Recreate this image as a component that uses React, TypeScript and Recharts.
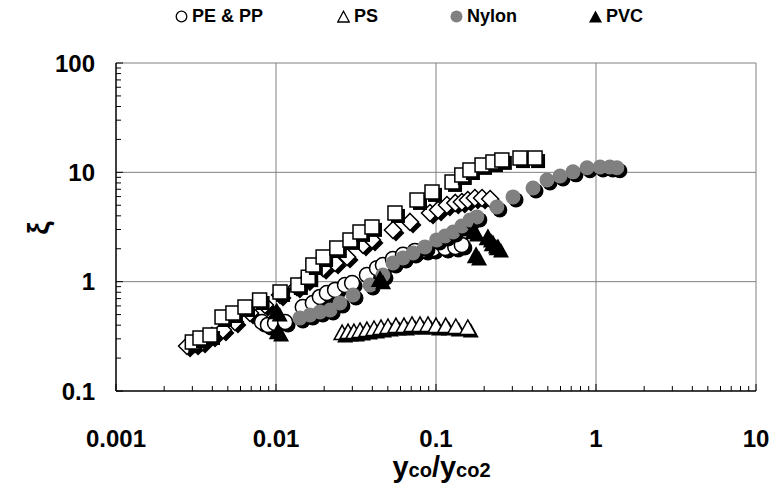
import React from 'react'
import { ScatterChart, Scatter, XAxis, YAxis, ReferenceLine } from 'recharts'

// --- data (log-log) ---
const diamondX = [0.00278, 0.00312, 0.00345, 0.00398, 0.00466, 0.00554, 0.00688, 0.00853, 0.0106, 0.0135, 0.0156, 0.0197, 0.0234, 0.0278, 0.035, 0.0398, 0.0538, 0.0688, 0.0917, 0.103, 0.117, 0.132, 0.145, 0.158, 0.175, 0.194, 0.218]
const diamondY = [0.258, 0.269, 0.281, 0.319, 0.361, 0.428, 0.517, 0.612, 0.756, 0.894, 1.04, 1.33, 1.48, 1.68, 2.17, 2.41, 2.97, 3.52, 4.25, 4.53, 5.03, 5.25, 5.36, 5.59, 5.83, 5.83, 5.71]

const squareX = [0.003, 0.00335, 0.00387, 0.0046, 0.00538, 0.0064, 0.0079, 0.0106, 0.0137, 0.0159, 0.017, 0.0197, 0.024, 0.029, 0.0335, 0.0398, 0.0554, 0.0761, 0.0944, 0.126, 0.145, 0.163, 0.194, 0.227, 0.258, 0.335, 0.416]
const squareY = [0.281, 0.305, 0.325, 0.475, 0.517, 0.587, 0.68, 0.805, 0.933, 1.1, 1.42, 1.68, 2.03, 2.41, 2.85, 3.17, 4.25, 5.59, 6.62, 8.17, 9.46, 10.5, 11.7, 12.4, 13.0, 13.5, 13.5]

const pePpX = [0.00817, 0.00891, 0.00986, 0.0114, 0.0147, 0.017, 0.0188, 0.0208, 0.0234, 0.027, 0.0299, 0.037, 0.0428, 0.0466, 0.0538, 0.0622, 0.0739, 0.0853, 0.0957, 0.114, 0.132, 0.145]
const pePpY = [0.428, 0.402, 0.419, 0.428, 0.587, 0.638, 0.725, 0.788, 0.84, 0.933, 0.973, 1.15, 1.33, 1.42, 1.61, 1.76, 1.91, 1.95, 1.99, 2.03, 2.08, 2.17]

const nylonX = [0.0141, 0.0163, 0.0188, 0.0218, 0.0251, 0.0303, 0.0387, 0.0466, 0.0538, 0.0622, 0.0718, 0.0853, 0.101, 0.114, 0.128, 0.145, 0.163, 0.18, 0.24, 0.303, 0.404, 0.494, 0.596, 0.718, 0.879, 1.06, 1.22, 1.35]
const nylonY = [0.465, 0.496, 0.528, 0.551, 0.638, 0.756, 0.933, 1.15, 1.48, 1.65, 1.83, 2.08, 2.41, 2.62, 2.85, 3.23, 3.67, 3.91, 4.82, 5.96, 7.2, 8.51, 9.26, 10.1, 11.0, 11.2, 11.2, 11.0]

const psX = [0.0259, 0.0282, 0.0307, 0.0335, 0.037, 0.041, 0.0453, 0.0501, 0.0562, 0.0631, 0.0708, 0.0794, 0.0891, 0.1, 0.115, 0.133, 0.158]
const psY = [0.339, 0.346, 0.346, 0.354, 0.361, 0.369, 0.377, 0.385, 0.393, 0.393, 0.402, 0.402, 0.402, 0.393, 0.393, 0.385, 0.377]

const pvcX = [0.0101, 0.0103, 0.0447, 0.173, 0.178, 0.211, 0.227, 0.244]
const pvcY = [0.528, 0.346, 1.04, 2.85, 1.72, 2.51, 2.21, 2.03]

const X_MAJOR = [0.001, 0.01, 0.1, 1, 10]
const Y_MAJOR = [0.1, 1, 10, 100]
const LEGEND = [
  { label: 'PE & PP', icon: 'circle', x: 175 },
  { label: 'PS', icon: 'triangle', x: 337 },
  { label: 'Nylon', icon: 'dot', x: 450 },
  { label: 'PVC', icon: 'filledTriangle', x: 589 },
]

const W = 773
const H = 485
const PLOT_LEFT = 116
const PLOT_BOTTOM = 391
const FONT = 'Arial, "Liberation Sans", sans-serif'
const SH = 3 // drop shadow offset

const pts = (xs: number[], ys: number[]) => xs.map((x, i) => ({ x, y: ys[i] }))

// all ticks (1..9 per decade), labels only on decades
const minorTicks = (majors: number[]) => {
  const out: number[] = []
  majors.forEach((m, i) => {
    if (i === majors.length - 1) { out.push(m); return }
    for (let k = 1; k < 10; k++) out.push(+(m * k).toPrecision(6))
  })
  return out
}
const isMajor = (v: number) => Math.abs(Math.log10(v) - Math.round(Math.log10(v))) < 1e-6

function markerPath(kind: string, cx: number, cy: number) {
  switch (kind) {
    case 'square': return `M${cx - 7},${cy - 7}h14v14h-14z`
    case 'diamond': return `M${cx},${cy - 8.5}L${cx + 8.5},${cy}L${cx},${cy + 8.5}L${cx - 8.5},${cy}z`
    case 'triangle': return `M${cx},${cy - 8}L${cx + 8},${cy + 6.5}L${cx - 8},${cy + 6.5}z`
    default: return ''
  }
}

const makeShape = (kind: string, fill: string, stroke: string) => (props: any) => {
  const { cx, cy } = props
  if (cx == null || cy == null) return <g />
  if (kind === 'circle') {
    return (
      <g>
        <circle cx={cx + SH} cy={cy + SH} r={7.5} fill="#000" />
        <circle cx={cx} cy={cy} r={7.5} fill={fill} stroke={stroke} strokeWidth={stroke === 'none' ? 0 : 1.5} />
      </g>
    )
  }
  const d = markerPath(kind, cx, cy)
  const ds = markerPath(kind, cx + SH, cy + SH)
  return (
    <g>
      <path d={ds} fill="#000" />
      <path d={d} fill={fill} stroke={stroke} strokeWidth={1.5} strokeLinejoin="miter" />
    </g>
  )
}

function YTick({ y, payload }: any) {
  const major = isMajor(payload.value)
  return (
    <g>
      <line x1={PLOT_LEFT} x2={PLOT_LEFT + (major ? 7 : 5)} y1={y} y2={y} stroke="#000" strokeWidth={1} />
      {major && (
        <text x={95} y={y} dy="0.36em" textAnchor="end" fontFamily={FONT} fontWeight={700} fontSize={24} fill="#000">
          {String(payload.value)}
        </text>
      )}
    </g>
  )
}

function XTick({ x, payload }: any) {
  const major = isMajor(payload.value)
  return (
    <g>
      <line x1={x} x2={x} y1={PLOT_BOTTOM} y2={PLOT_BOTTOM - (major ? 7 : 5)} stroke="#000" strokeWidth={1} />
      {major && (
        <text x={x} y={438} dy="0.36em" textAnchor="middle" fontFamily={FONT} fontWeight={700} fontSize={24} fill="#000">
          {String(payload.value)}
        </text>
      )}
    </g>
  )
}

function LegendIcon({ kind }: { kind: string }) {
  return (
    <svg width={13} height={13} style={{ display: 'block' }}>
      {kind === 'circle' && <circle cx={6.5} cy={6.5} r={5.3} fill="#fff" stroke="#000" strokeWidth={1.3} />}
      {kind === 'dot' && <circle cx={6.5} cy={6.5} r={6} fill="#808080" />}
      {kind === 'triangle' && <path d="M6.5,1.2L12.3,12H0.7z" fill="#fff" stroke="#000" strokeWidth={1.3} />}
      {kind === 'filledTriangle' && <path d="M6.5,0.5L13,12.5H0z" fill="#000" />}
    </svg>
  )
}

export default function App() {
  const xTicks = minorTicks(X_MAJOR)
  const yTicks = minorTicks(Y_MAJOR)
  return (
    <div style={{ position: 'absolute', left: 0, top: 0, width: W, height: H, background: '#fff' }}>
      <ScatterChart width={W} height={H} margin={{ top: 63, right: 17, bottom: 34, left: 0 }}>
        <XAxis
          dataKey="x" type="number" scale="log" domain={[0.001, 10]} allowDataOverflow
          ticks={xTicks} interval={0} tick={<XTick />} tickLine={false}
          axisLine={{ stroke: '#000', strokeWidth: 1.5 }} height={60}
        />
        <YAxis
          dataKey="y" type="number" scale="log" domain={[0.1, 100]} allowDataOverflow
          ticks={yTicks} interval={0} tick={<YTick />} tickLine={false}
          axisLine={{ stroke: '#000', strokeWidth: 1.5 }} width={PLOT_LEFT}
        />
        {X_MAJOR.slice(1).map(v => (
          <ReferenceLine key={'gx' + v} x={v} stroke="#808080" strokeWidth={1} />
        ))}
        {Y_MAJOR.slice(1).map(v => (
          <ReferenceLine key={'gy' + v} y={v} stroke="#808080" strokeWidth={1} />
        ))}
        <Scatter data={pts(diamondX, diamondY)} shape={makeShape('diamond', '#fff', '#000')} isAnimationActive={false} />
        <Scatter data={pts(squareX, squareY)} shape={makeShape('square', '#fff', '#000')} isAnimationActive={false} />
        <Scatter data={pts(pePpX, pePpY)} shape={makeShape('circle', '#fff', '#000')} isAnimationActive={false} />
        <Scatter data={pts(nylonX, nylonY)} shape={makeShape('circle', '#808080', 'none')} isAnimationActive={false} />
        <Scatter data={pts(psX, psY)} shape={makeShape('triangle', '#fff', '#000')} isAnimationActive={false} />
        <Scatter data={pts(pvcX, pvcY)} shape={makeShape('triangle', '#000', '#000')} isAnimationActive={false} />
      </ScatterChart>

      {/* legend */}
      {LEGEND.map(l => (
        <div key={l.label} style={{
          position: 'absolute', left: l.x, top: 5, height: 22, display: 'flex', alignItems: 'center', gap: 4,
          fontFamily: FONT, fontWeight: 700, fontSize: 18, color: '#000', whiteSpace: 'nowrap',
        }}>
          <LegendIcon kind={l.icon} />
          <span>{l.label}</span>
        </div>
      ))}

      {/* axis titles */}
      <div style={{
        position: 'absolute', left: 24, top: 212, width: 30, height: 32, fontFamily: FONT, fontWeight: 700,
        fontSize: 30, color: '#000', transform: 'rotate(-90deg)', textAlign: 'center', lineHeight: '32px',
      }}>ξ</div>
      <div style={{
        position: 'absolute', left: 0, width: W, top: 450, textAlign: 'center', paddingLeft: 110,
        boxSizing: 'border-box', fontFamily: FONT, fontWeight: 700, color: '#000', fontSize: 29, lineHeight: '34px',
      }}>
        y<span style={{ fontSize: 20 }}>co</span>/y<span style={{ fontSize: 20 }}>co2</span>
      </div>
    </div>
  )
}
